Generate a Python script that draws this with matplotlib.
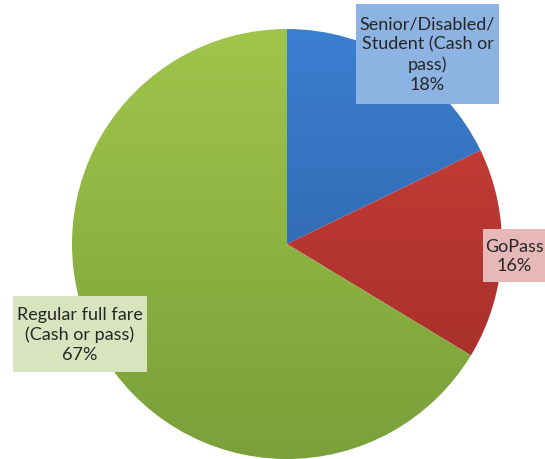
import numpy as np
import matplotlib
matplotlib.use("Agg")
import matplotlib.pyplot as plt
from matplotlib.patches import Rectangle

plt.rcParams['font.family'] = ['Lato', 'DejaVu Sans']

categories = ["Senior/Disabled/\nStudent (Cash or\npass)", "GoPass", "Regular full fare\n(Cash or pass)"]
shares = [18, 16, 67]
# gradient (top, bottom) per slice
grad_colors = [("#3b7fd2", "#2c5a98"), ("#d0413c", "#9c2b27"), ("#a0c54b", "#79a03a")]
box_colors = ["#8db3e2", "#e6b9b8", "#d7e4bd"]
# label boxes: left, bottom, width, height
boxes = [(356, 355, 143, 100), (483, 177, 62, 53), (13, 87, 134, 76)]

fig = plt.figure(figsize=(5.45, 4.6), dpi=100)
ax = fig.add_axes([0, 0, 1, 1])

wedges, _ = ax.pie(shares, center=(287, 215), radius=215, startangle=90,
                   counterclock=False, frame=True,
                   wedgeprops=dict(linewidth=0))

for w, (c_top, c_bot) in zip(wedges, grad_colors):
    w.set_facecolor("none")
    t = np.linspace(0, 1, 256)[:, None]
    top = np.array(matplotlib.colors.to_rgb(c_top))
    bot = np.array(matplotlib.colors.to_rgb(c_bot))
    grad = (top * (1 - t) + bot * t)[:, None, :].repeat(2, axis=1)
    im = ax.imshow(grad, extent=(72, 502, 0, 430), origin="upper",
                   aspect="auto", interpolation="bilinear", zorder=1)
    im.set_clip_path(w)

for label, val, (x, y, bw, bh), bc in zip(categories, shares, boxes, box_colors):
    ax.add_patch(Rectangle((x, y), bw, bh, facecolor=bc, edgecolor="none", zorder=3))
    ax.text(x + bw / 2, y + bh / 2, f"{label}\n{val}%", ha="center", va="center",
            fontsize=13, color="#262626", linespacing=1.3, zorder=4)

ax.set_xlim(0, 545)
ax.set_ylim(0, 460)
ax.set_aspect("equal")
ax.axis("off")

fig.savefig("out.png", dpi=100)
